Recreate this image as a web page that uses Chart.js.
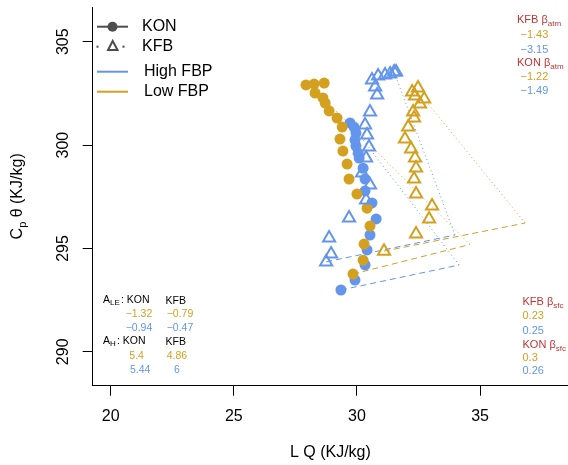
<!DOCTYPE html>
<html><head><meta charset="utf-8">
<script src="https://cdn.jsdelivr.net/npm/chart.js@4"></script>
<style>html,body{margin:0;padding:0;background:#fff}#wrap{width:568px;height:465px;position:relative}</style>
</head><body><div id="wrap"><canvas id="c" width="568" height="465"></canvas></div>
<script>
const BLUE = '#6495ED', GOLD = '#D4A020', RED = '#BE3434', GREY = '#4D4D4D';
const FONT = '"Liberation Sans", Arial, sans-serif';

// axis ticks / ranges
const xTicks = [20, 25, 30, 35];
const yTicks = [290, 295, 300, 305];
const xRange = [19.27, 38.57];
const yRange = [288.36, 306.68];

// KON, High FBP (filled circles)
const konHighX = [29.35, 29.92, 30.33, 30.41, 30.53, 30.78, 30.61, 30.33, 30.33, 30.25, 30.09, 30.05, 29.96, 29.92, 29.96, 29.88, 29.72];
const konHighY = [292.99, 293.47, 294.20, 294.93, 295.65, 296.43, 297.20, 297.78, 298.36, 298.88, 299.37, 299.61, 299.95, 300.24, 300.58, 300.87, 301.07];
// KON, Low FBP
const konLowX = [29.84, 30.25, 30.29, 30.53, 30.41, 30.00, 29.68, 29.60, 29.43, 29.31, 29.40, 29.19, 28.87, 28.71, 28.62, 28.30, 27.93, 28.26, 28.67];
const konLowY = [293.76, 294.43, 295.21, 296.08, 296.95, 297.63, 298.36, 299.08, 299.71, 300.29, 300.87, 301.31, 301.65, 302.03, 302.28, 302.52, 302.91, 302.95, 303.00];
// KFB, High FBP (open triangles)
const kfbHighX = [28.75, 28.95, 28.87, 29.68, 30.37, 30.53, 30.21, 30.37, 30.49, 30.41, 30.33, 30.53, 30.82, 30.74, 30.61, 30.86, 31.14, 31.35, 31.51, 31.59];
const kfbHighY = [294.35, 294.73, 295.51, 296.47, 297.34, 298.07, 298.65, 299.37, 299.91, 300.49, 300.97, 301.60, 302.42, 302.81, 303.15, 303.34, 303.39, 303.44, 303.53, 303.53];
// KFB, Low FBP
const kfbLowX = [31.10, 32.40, 32.93, 33.05, 32.40, 32.32, 32.40, 32.36, 32.20, 31.95, 32.08, 32.32, 32.28, 32.56, 32.73, 32.36, 32.24, 32.48];
const kfbLowY = [294.87, 295.70, 296.42, 297.05, 297.63, 298.36, 298.89, 299.37, 299.81, 300.29, 300.87, 301.31, 301.60, 301.99, 302.23, 302.37, 302.57, 302.76];

// flux vectors: [start, corner, end] (surface = dashed start->corner, entrainment = dotted corner->end)
const vecKonHighX = [29.35, 34.15, 29.72];
const vecKonHighY = [292.99, 294.20, 301.07];
const vecKonLowX = [29.84, 34.59, 28.62];
const vecKonLowY = [293.76, 295.19, 302.28];
const vecKfbHighX = [28.75, 33.98, 31.51];
const vecKfbHighY = [294.35, 295.65, 303.53];
const vecKfbLowX = [31.10, 36.83, 32.73];
const vecKfbLowY = [294.87, 296.23, 302.23];

function pts(xs, ys) { return xs.map((x, i) => ({ x: x, y: ys[i] })); }

function vecSets(xs, ys, color) {
  return [
    { type: 'line', data: pts(xs.slice(0, 2), ys.slice(0, 2)), borderColor: color, borderWidth: 1, borderDash: [6, 4], pointRadius: 0, showLine: true, fill: false, order: 20 },
    { type: 'line', data: pts(xs.slice(1, 3), ys.slice(1, 3)), borderColor: color, borderWidth: 1, borderDash: [1, 3], pointRadius: 0, showLine: true, fill: false, order: 20 }
  ];
}

function sub(c, x, y, main, s, color, size) {
  c.fillStyle = color;
  c.font = size + 'px ' + FONT;
  c.textAlign = 'left';
  c.fillText(main, x, y);
  const w = c.measureText(main).width;
  c.font = Math.round(size * 0.72) + 'px ' + FONT;
  c.fillText(s, x + w, y + size * 0.3);
}
function txt(c, x, y, t, color, size) {
  c.fillStyle = color; c.font = size + 'px ' + FONT; c.textAlign = 'left'; c.fillText(t, x, y);
}

const overlay = {
  id: 'overlay',
  afterDraw(chart) {
    const c = chart.ctx, xs = chart.scales.x, ys = chart.scales.y, a = chart.chartArea;
    c.save();
    c.fillStyle = '#000';
    c.font = '16px ' + FONT;
    c.textAlign = 'center';
    c.textBaseline = 'middle';
    xTicks.forEach(v => c.fillText(String(v), xs.getPixelForValue(v), 417));
    yTicks.forEach(v => {
      c.save(); c.translate(64, ys.getPixelForValue(v)); c.rotate(-Math.PI / 2);
      c.fillText(String(v), 0, 0); c.restore();
    });
    c.fillText('L Q (KJ/kg)', (a.left + a.right) / 2, 453);
    // y title
    c.save();
    c.translate(18, (a.top + a.bottom) / 2);
    c.rotate(-Math.PI / 2);
    c.font = '16px ' + FONT;
    const w1 = c.measureText('C').width;
    const rest = ' \u03B8 (KJ/kg)';
    const w3 = c.measureText(rest).width;
    c.font = '11px ' + FONT;
    const w2 = c.measureText('p').width;
    const tot = w1 + w2 + w3;
    let x0 = -tot / 2;
    c.textAlign = 'left';
    c.font = '16px ' + FONT; c.fillText('C', x0, 0);
    c.font = '11px ' + FONT; c.fillText('p', x0 + w1, 5);
    c.font = '16px ' + FONT; c.fillText(rest, x0 + w1 + w2, 0);
    c.restore();

    // legend
    c.lineWidth = 2;
    c.strokeStyle = GREY;
    c.beginPath(); c.moveTo(97, 26.7); c.lineTo(128, 26.7); c.stroke();
    c.fillStyle = GREY;
    c.beginPath(); c.arc(112.5, 26.7, 5, 0, Math.PI * 2); c.fill();
    c.fillRect(96.5, 45.7, 2, 2); c.fillRect(122.5, 45.7, 2, 2);
    c.beginPath(); c.moveTo(112.7, 41); c.lineTo(117.5, 50); c.lineTo(108, 50); c.closePath(); c.stroke();
    c.strokeStyle = BLUE; c.beginPath(); c.moveTo(97, 71.7); c.lineTo(128, 71.7); c.stroke();
    c.strokeStyle = GOLD; c.beginPath(); c.moveTo(97, 91.7); c.lineTo(128, 91.7); c.stroke();
    c.fillStyle = '#000'; c.font = '16px ' + FONT; c.textAlign = 'left';
    c.fillText('KON', 142, 27);
    c.fillText('KFB', 142, 47);
    c.fillText('High FBP', 144, 72);
    c.fillText('Low FBP', 144, 92);

    // annotations top-right
    sub(c, 517, 20, 'KFB \u03B2', 'atm', RED, 11);
    txt(c, 520.5, 35, '\u22121.43', GOLD, 11);
    txt(c, 520.5, 50, '\u22123.15', BLUE, 11);
    sub(c, 517, 63, 'KON \u03B2', 'atm', RED, 11);
    txt(c, 520.5, 77, '\u22121.22', GOLD, 11);
    txt(c, 520.5, 91, '\u22121.49', BLUE, 11);
    // bottom-right
    sub(c, 522.5, 302, 'KFB \u03B2', 'sfc', RED, 11);
    txt(c, 522.5, 316, '0.23', GOLD, 11);
    txt(c, 522.5, 331, '0.25', BLUE, 11);
    sub(c, 522.5, 345, 'KON \u03B2', 'sfc', RED, 11);
    txt(c, 522.5, 358, '0.3', GOLD, 11);
    txt(c, 522.5, 371, '0.26', BLUE, 11);
    // bottom-left
    sub(c, 103, 300, 'A', 'LE', '#000', 10.5);
    txt(c, 121, 300, ': KON', '#000', 10.5);
    txt(c, 165.5, 301, 'KFB', '#000', 10.5);
    txt(c, 125.7, 314, '\u22121.32', GOLD, 10.5);
    txt(c, 166.7, 314, '\u22120.79', GOLD, 10.5);
    txt(c, 125.7, 328, '\u22120.94', BLUE, 10.5);
    txt(c, 166.7, 328, '\u22120.47', BLUE, 10.5);
    sub(c, 103, 341, 'A', 'H', '#000', 10.5);
    txt(c, 117, 341, ': KON', '#000', 10.5);
    txt(c, 165.5, 342, 'KFB', '#000', 10.5);
    txt(c, 129.3, 356, '5.4', GOLD, 10.5);
    txt(c, 166.7, 356, '4.86', GOLD, 10.5);
    txt(c, 130, 370, '5.44', BLUE, 10.5);
    txt(c, 174, 370, '6', BLUE, 10.5);
    c.restore();
  }
};

const datasets = [
  { label: 'KFB High', data: pts(kfbHighX, kfbHighY), pointStyle: 'triangle', pointRadius: 7, backgroundColor: 'rgba(0,0,0,0)', borderColor: BLUE, pointBorderWidth: 2, order: 1 },
  { label: 'KFB Low', data: pts(kfbLowX, kfbLowY), pointStyle: 'triangle', pointRadius: 7, backgroundColor: 'rgba(0,0,0,0)', borderColor: GOLD, pointBorderWidth: 2, order: 2 },
  { label: 'KON Low', data: pts(konLowX, konLowY), pointStyle: 'circle', pointRadius: 5.5, backgroundColor: GOLD, borderWidth: 0, pointBorderWidth: 0, order: 3 },
  { label: 'KON High', data: pts(konHighX, konHighY), pointStyle: 'circle', pointRadius: 5.5, backgroundColor: BLUE, borderWidth: 0, pointBorderWidth: 0, order: 4 },
].concat(vecSets(vecKonHighX, vecKonHighY, BLUE), vecSets(vecKonLowX, vecKonLowY, GOLD),
         vecSets(vecKfbHighX, vecKfbHighY, BLUE), vecSets(vecKfbLowX, vecKfbLowY, GOLD));

new Chart(document.getElementById('c').getContext('2d'), {
  type: 'scatter',
  data: { datasets: datasets },
  options: {
    responsive: false,
    animation: false,
    devicePixelRatio: 1,
    layout: { autoPadding: false, padding: { top: 7, right: 0, left: 0, bottom: 0 } },
    plugins: { legend: { display: false }, tooltip: { enabled: false } },
    scales: {
      x: {
        type: 'linear', min: xRange[0], max: xRange[1],
        afterBuildTicks: s => { s.ticks = xTicks.map(v => ({ value: v })); },
        afterFit: s => { s.height = 79.3; },
        ticks: { display: false },
        grid: { drawOnChartArea: false, drawTicks: true, tickLength: 10, color: '#000', lineWidth: 1 },
        border: { display: true, color: '#000', width: 1 }
      },
      y: {
        type: 'linear', min: yRange[0], max: yRange[1],
        afterBuildTicks: s => { s.ticks = yTicks.map(v => ({ value: v })); },
        afterFit: s => { s.width = 92.7; },
        ticks: { display: false },
        grid: { drawOnChartArea: false, drawTicks: true, tickLength: 10, color: '#000', lineWidth: 1 },
        border: { display: true, color: '#000', width: 1 }
      }
    }
  },
  plugins: [overlay]
});
</script></body></html>
